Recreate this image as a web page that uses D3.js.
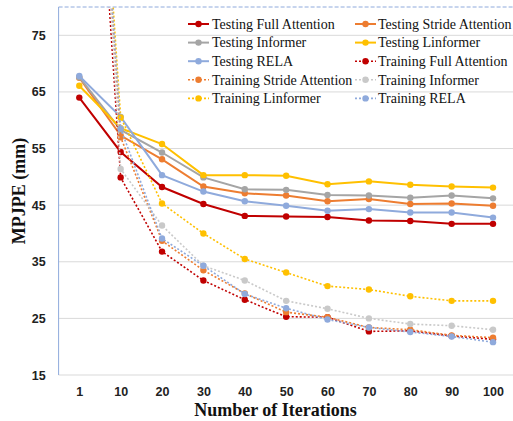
<!DOCTYPE html>
<html><head><meta charset="utf-8">
<script src="https://cdn.jsdelivr.net/npm/d3@7"></script>
<style>body{margin:0;background:#fff}svg{display:block}</style>
</head><body>
<svg id="chart" width="513" height="421"></svg>
<script>
const categories = ["1","10","20","30","40","50","60","70","80","90","100"];
const yTicks = [15,25,35,45,55,65,75];
const testingFull      = [64.0, 54.4, 48.2, 45.2, 43.1, 43.0, 42.9, 42.3, 42.2, 41.7, 41.7];
const testingStride    = [67.5, 57.3, 53.1, 48.3, 47.1, 46.7, 45.7, 46.1, 45.2, 45.3, 44.9];
const testingInformer  = [67.6, 58.3, 54.3, 49.9, 47.8, 47.7, 46.8, 46.7, 46.3, 46.7, 46.2];
const testingLinformer = [66.1, 58.6, 55.8, 50.3, 50.3, 50.2, 48.7, 49.2, 48.6, 48.3, 48.1];
const testingRela      = [67.8, 60.6, 50.3, 47.4, 45.7, 44.9, 44.0, 44.3, 43.7, 43.7, 42.8];
const trainingFull      = [160, 49.9, 36.8, 31.7, 28.3, 25.3, 25.2, 22.7, 22.8, 21.9, 21.3];
const trainingStride    = [165, 57.0, 38.7, 33.5, 29.4, 26.1, 25.2, 23.4, 23.0, 22.0, 21.6];
const trainingInformer  = [170, 51.4, 41.4, 34.3, 31.7, 28.1, 26.7, 25.0, 24.0, 23.7, 23.0];
const trainingLinformer = [168, 60.5, 45.3, 40.0, 35.5, 33.1, 30.7, 30.1, 28.9, 28.1, 28.1];
const trainingRela      = [165, 58.5, 39.1, 34.3, 29.3, 26.8, 24.8, 23.4, 22.6, 21.8, 20.8];

const series = [
  {name:"Testing Full Attention", values:testingFull, color:"#C00000", dotted:false},
  {name:"Testing Stride Attention", values:testingStride, color:"#ED7D31", dotted:false},
  {name:"Testing Informer", values:testingInformer, color:"#A5A5A5", dotted:false},
  {name:"Testing Linformer", values:testingLinformer, color:"#FFC000", dotted:false},
  {name:"Testing RELA", values:testingRela, color:"#8FAADC", dotted:false},
  {name:"Training Full Attention", values:trainingFull, color:"#C00000", dotted:true},
  {name:"Training Stride Attention", values:trainingStride, color:"#ED7D31", dotted:true},
  {name:"Training Informer", values:trainingInformer, color:"#C9C9C9", dotted:true},
  {name:"Training Linformer", values:trainingLinformer, color:"#FFC000", dotted:true},
  {name:"Training RELA", values:trainingRela, color:"#8FAADC", dotted:true}
];

const svg = d3.select("#chart");
const L = 58.6, R = 513.7, T = 7, B = 375;
const x = d3.scalePoint().domain(categories).range([L, R]).padding(0.5);
const y = d3.scaleLinear().domain([15, 80]).range([B, T]);

// gridlines
svg.append("g").selectAll("line").data(yTicks).join("line")
  .attr("x1", L).attr("x2", R).attr("y1", d=>y(d)).attr("y2", d=>y(d))
  .attr("stroke", "#D9D9D9").attr("stroke-width", 1);

// frame lines
svg.append("line").attr("x1", L).attr("x2", L).attr("y1", T).attr("y2", B)
  .attr("stroke", "#8FAADC").attr("stroke-width", 1);
svg.append("line").attr("x1", L).attr("x2", R).attr("y1", T).attr("y2", T)
  .attr("stroke", "#8FAADC").attr("stroke-width", 1).attr("stroke-dasharray", "4,2");

// y axis labels
const yAxis = d3.axisLeft(y).tickValues(yTicks).tickSize(0).tickPadding(13);
const gy = svg.append("g").attr("transform", `translate(${L},0)`).call(yAxis);
gy.select(".domain").remove();
gy.selectAll("text").attr("font-family", "'Liberation Sans', Arial, sans-serif")
  .attr("font-weight", "bold").attr("font-size", "12.5px").attr("fill", "#222");

// x axis labels
const xAxis = d3.axisBottom(x).tickSize(0).tickPadding(12);
const gx = svg.append("g").attr("transform", `translate(0,${B})`).call(xAxis);
gx.select(".domain").remove();
gx.selectAll("text").attr("font-family", "'Liberation Sans', Arial, sans-serif")
  .attr("font-weight", "bold").attr("font-size", "12.5px").attr("fill", "#222");

// axis titles
svg.append("text").attr("x", 275.5).attr("y", 416).attr("text-anchor", "middle")
  .attr("font-family", "'Liberation Serif', 'Times New Roman', serif").attr("font-weight", "bold")
  .attr("font-size", "18px").attr("fill", "#111").text("Number of Iterations");
svg.append("text").attr("transform", "translate(25,191) rotate(-90)").attr("text-anchor", "middle")
  .attr("font-family", "'Liberation Serif', 'Times New Roman', serif").attr("font-weight", "bold")
  .attr("font-size", "18px").attr("fill", "#111").text("MPJPE (mm)");

// clip
svg.append("clipPath").attr("id", "clip").append("rect")
  .attr("x", L).attr("y", T).attr("width", R - L).attr("height", B - T);

const plot = svg.append("g").attr("clip-path", "url(#clip)");
const line = d3.line().x((d,i)=>x(categories[i])).y(d=>y(d));

series.forEach(s => {
  const g = plot.append("g");
  g.append("path").datum(s.values).attr("d", line).attr("fill", "none")
    .attr("stroke", s.color).attr("stroke-width", s.dotted ? 1.6 : 2)
    .attr("stroke-dasharray", s.dotted ? "2,2" : null);
  g.selectAll("circle").data(s.values).join("circle")
    .attr("cx", (d,i)=>x(categories[i])).attr("cy", d=>y(d)).attr("r", 3.2)
    .attr("fill", s.color);
});

// legend
const legendCols = [{lx:188, tx:212}, {lx:355, tx:378}];
const legendRows = [24, 42.6, 61.2, 79.8, 98.4];
series.forEach((s, i) => {
  const col = legendCols[i % 2], ry = legendRows[Math.floor(i / 2)];
  const g = svg.append("g");
  g.append("line").attr("x1", col.lx).attr("x2", col.lx + 21).attr("y1", ry).attr("y2", ry)
    .attr("stroke", s.color).attr("stroke-width", s.dotted ? 1.6 : 2)
    .attr("stroke-dasharray", s.dotted ? "2,2" : null);
  g.append("circle").attr("cx", col.lx + 10.5).attr("cy", ry).attr("r", 3.2).attr("fill", s.color);
  g.append("text").attr("x", col.tx).attr("y", ry + 4.8)
    .attr("font-family", "'Liberation Serif', 'Times New Roman', serif")
    .attr("font-size", "14px").attr("fill", "#111").text(s.name);
});
</script>
</body></html>
